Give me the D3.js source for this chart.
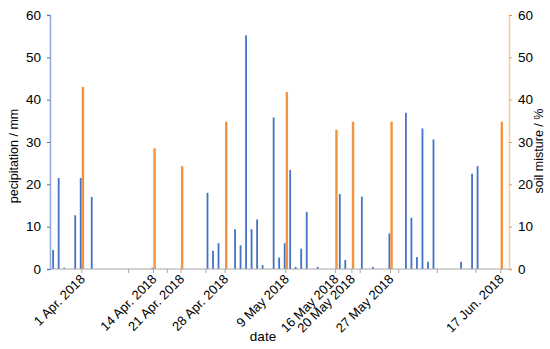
<html>
<meta charset="utf-8">
<script src="https://cdn.jsdelivr.net/npm/d3@7"></script>
<style>
body{ margin:0; background:white; }
text{ font-family: "Liberation Sans", Arial, sans-serif; fill:#000; }
</style>
<body>
<div id="chart"></div>
<script>
// day index counted from 27 Mar 2018 (slot 0)
var nDays = 83;

var precipDays   = [0, 1, 2, 4, 5, 7, 18, 28, 29, 30, 33, 34, 35, 36, 37, 38, 40, 41, 42, 43, 44, 45, 46, 48, 52, 53, 56, 58, 61, 64, 65, 66, 67, 68, 69, 74, 76, 77];
var precipValues = [4.5, 21.5, 0.3, 12.7, 21.5, 17, 0.3, 18, 4.3, 6.1, 9.4, 5.6, 55.2, 9.4, 11.7, 0.9, 35.8, 2.7, 6.1, 23.4, 0.5, 4.8, 13.5, 0.5, 17.7, 2.1, 17.1, 0.5, 8.4, 36.9, 12.1, 2.8, 33.2, 1.7, 30.6, 1.7, 22.5, 24.3];

var soilDays   = [5, 18, 23, 31, 42, 51, 54, 61, 81];
var soilValues = [43, 28.5, 24.3, 34.8, 41.8, 32.9, 34.8, 34.8, 34.8];
var soilLabels = ["1 Apr. 2018", "14 Apr. 2018", "21 Apr. 2018", "28 Apr. 2018", "9 May 2018", "16 May 2018", "20 May 2018", "27 May 2018", "17 Jun. 2018"];

// unlabeled week marks on the date axis
var weekTicks = [14, 21, 28, 56, 63, 70, 77];

var yTicks = [0, 10, 20, 30, 40, 50, 60];

var width = 550, height = 349;
var plotLeft = 50, plotRight = 509, plotTop = 15, plotBottom = 269;

var svg = d3.select("#chart").append("svg").attr("width", width).attr("height", height);

var x = d3.scaleBand().domain(d3.range(nDays)).range([51.5, plotRight]);
var xSub = d3.scaleBand().domain(["p", "s"]).range([0, x.bandwidth()]).paddingOuter(0.25);
var yL = d3.scaleLinear().domain([0, 60]).range([plotBottom, plotTop]);
var yR = d3.scaleLinear().domain([0, 60]).range([plotBottom, plotTop]);

// bars
svg.append("g").selectAll("rect").data(precipDays).enter().append("rect")
  .attr("x", function(d){ return x(d) + xSub("p") + xSub.bandwidth()/2 - 0.9; })
  .attr("width", 1.8)
  .attr("y", function(d, i){ return yL(precipValues[i]); })
  .attr("height", function(d, i){ return plotBottom - yL(precipValues[i]); })
  .attr("fill", "#4472c4");

svg.append("g").selectAll("rect").data(soilDays).enter().append("rect")
  .attr("x", function(d){ return x(d) + xSub("s") + xSub.bandwidth()/2 - 1.2; })
  .attr("width", 2.4)
  .attr("y", function(d, i){ return yR(soilValues[i]); })
  .attr("height", function(d, i){ return plotBottom - yR(soilValues[i]); })
  .attr("fill", "#f5923e");

// x axis
var xa = svg.append("g");
xa.append("line").attr("x1", plotLeft).attr("x2", plotRight).attr("y1", plotBottom).attr("y2", plotBottom)
  .attr("stroke", "#a6a6a6").attr("stroke-width", 1);
xa.selectAll(".wk").data(weekTicks).enter().append("line")
  .attr("x1", function(d){ return x(d); }).attr("x2", function(d){ return x(d); })
  .attr("y1", plotBottom).attr("y2", plotBottom + 4).attr("stroke", "#a6a6a6");
xa.selectAll(".lt").data(soilDays).enter().append("line")
  .attr("x1", function(d){ return x(d) + x.bandwidth()/2; }).attr("x2", function(d){ return x(d) + x.bandwidth()/2; })
  .attr("y1", plotBottom).attr("y2", plotBottom + 4).attr("stroke", "#a6a6a6");
xa.selectAll("text").data(soilDays).enter().append("text")
  .attr("transform", function(d){ return "translate(" + (x(d) + x.bandwidth()/2 + 4) + "," + (plotBottom + 11) + ") rotate(-45)"; })
  .attr("text-anchor", "end")
  .attr("font-size", 13)
  .text(function(d, i){ return soilLabels[i]; });

svg.append("text").attr("x", 263).attr("y", 341).attr("text-anchor", "middle")
  .attr("font-size", 13.5).text("date");

// left axis
var la = svg.append("g").attr("transform", "translate(" + plotLeft + ",0)")
  .call(d3.axisLeft(yL).tickValues(yTicks).tickSize(3).tickPadding(6));
la.select(".domain").attr("stroke", "#8faadc").attr("stroke-width", 1.5);
la.selectAll(".tick line").attr("stroke", "#4472c4");
la.selectAll(".tick text").attr("font-size", 13.5).attr("font-family", "Liberation Sans, Arial, sans-serif");

svg.append("text").attr("transform", "translate(18,156) rotate(-90)")
  .attr("text-anchor", "middle").attr("font-size", 12.5).text("pecipitation / mm");

// right axis
var ra = svg.append("g").attr("transform", "translate(" + plotRight + ",0)")
  .call(d3.axisRight(yR).tickValues(yTicks).tickSize(3).tickPadding(6));
ra.select(".domain").attr("stroke", "#f8c9a3").attr("stroke-width", 1.5);
ra.selectAll(".tick line").attr("stroke", "#f5923e");
ra.selectAll(".tick text").attr("font-size", 13.5).attr("font-family", "Liberation Sans, Arial, sans-serif");

svg.append("text").attr("transform", "translate(543,151) rotate(-90)")
  .attr("text-anchor", "middle").attr("font-size", 12.5).text("soil misture / %");
</script>
</body>
</html>
